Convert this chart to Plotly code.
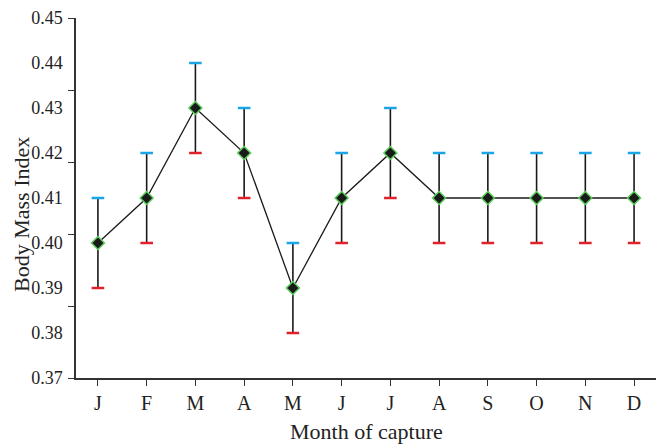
import plotly.graph_objects as go

months = ["J", "F", "M", "A", "M", "J", "J", "A", "S", "O", "N", "D"]
bmi = [0.40, 0.41, 0.43, 0.42, 0.39, 0.41, 0.42, 0.41, 0.41, 0.41, 0.41, 0.41]
err = [0.01, 0.01, 0.01, 0.01, 0.01, 0.01, 0.01, 0.01, 0.01, 0.01, 0.01, 0.01]
ytick_labels = [0.37, 0.38, 0.39, 0.40, 0.41, 0.42, 0.43, 0.44, 0.45]
ytick_marks = [0.37, 0.386, 0.402, 0.418, 0.434, 0.45]

x = list(range(len(months)))
upper = [v + e for v, e in zip(bmi, err)]
lower = [v - e for v, e in zip(bmi, err)]

FONT = "Liberation Serif"

fig = go.Figure()
fig.add_trace(go.Scatter(
    x=x, y=bmi, mode="lines+markers",
    line=dict(color="#1a1a1a", width=1.3),
    marker=dict(symbol="diamond", size=10, color="#1a1a1a",
                line=dict(color="#5ccc5c", width=1.5)),
    error_y=dict(type="data", array=err, visible=True, color="#1a1a1a",
                 thickness=1.6, width=0),
    showlegend=False,
))
fig.add_trace(go.Scatter(
    x=x, y=upper, mode="markers",
    marker=dict(symbol="line-ew", size=9, line=dict(color="#1aa6e6", width=2.5)),
    showlegend=False,
))
fig.add_trace(go.Scatter(
    x=x, y=lower, mode="markers",
    marker=dict(symbol="line-ew", size=9, line=dict(color="#e0202a", width=2.5)),
    showlegend=False,
))
# invisible trace for tick-mark axis
fig.add_trace(go.Scatter(x=[x[0]], y=[bmi[0]], yaxis="y2", mode="markers",
                         marker=dict(opacity=0), showlegend=False, hoverinfo="skip"))

fig.update_layout(
    width=662, height=438,
    margin=dict(l=68, r=14, t=10, b=68),
    paper_bgcolor="white", plot_bgcolor="white",
    font=dict(family=FONT, color="#222", size=18),
    xaxis=dict(
        range=[-0.45, len(months) - 0.55],
        tickmode="array", tickvals=x, ticktext=months,
        showline=True, linecolor="#333", linewidth=1.5,
        ticks="outside", ticklen=6, tickcolor="#333", tickwidth=1.3,
        showgrid=False, zeroline=False, automargin=False,
        tickfont=dict(family=FONT, size=20, color="#222"),
    ),
    yaxis=dict(
        range=[0.37, 0.45],
        tickmode="array", tickvals=ytick_labels,
        ticktext=[f"{v:.2f}" for v in ytick_labels],
        showline=True, linecolor="#333", linewidth=1.5,
        ticks="", showgrid=False, zeroline=False, automargin=False,
        ticklabelstandoff=8, ticklabeloverflow="allow",
        tickfont=dict(family=FONT, size=18, color="#222"),
    ),
    yaxis2=dict(
        range=[0.37, 0.45], overlaying="y", side="left",
        tickmode="array", tickvals=ytick_marks, automargin=False,
        ticks="outside", ticklen=7, tickcolor="#333", tickwidth=1.3,
        showticklabels=False, showline=False, showgrid=False, zeroline=False,
    ),
    annotations=[
        dict(text="Month of capture", xref="paper", yref="paper",
             x=0.5, y=-0.15, xanchor="center", yanchor="middle", showarrow=False,
             font=dict(family=FONT, size=22, color="#222")),
        dict(text="Body Mass Index", xref="paper", yref="paper",
             x=-0.093, y=0.453, xanchor="center", yanchor="middle", showarrow=False,
             textangle=-90, font=dict(family=FONT, size=22, color="#222")),
    ],
)

fig.write_html("out.html")
